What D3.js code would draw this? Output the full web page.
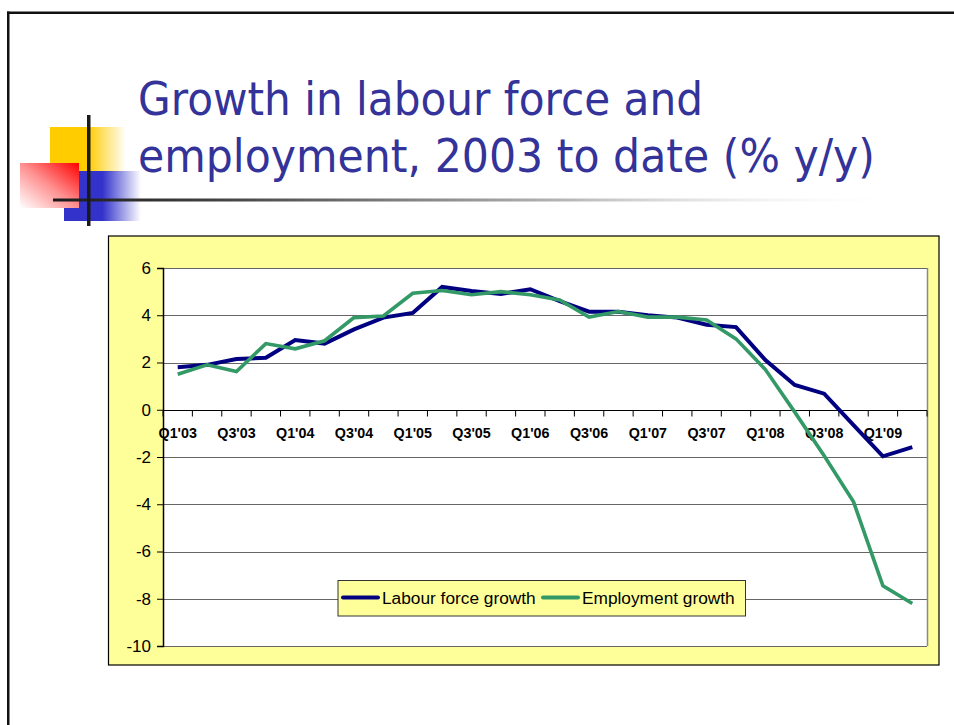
<!DOCTYPE html>
<html>
<head>
<meta charset="utf-8">
<script src="https://cdn.jsdelivr.net/npm/d3@7"></script>
<style>
  html, body { margin: 0; padding: 0; background: #fff; }
  svg { display: block; }
</style>
</head>
<body>
<svg id="slide" width="954" height="725"></svg>
<script>
// Quarterly categories, Q1 2003 to Q2 2009
const quarters = ["Q1'03","Q2'03","Q3'03","Q4'03","Q1'04","Q2'04","Q3'04","Q4'04",
  "Q1'05","Q2'05","Q3'05","Q4'05","Q1'06","Q2'06","Q3'06","Q4'06",
  "Q1'07","Q2'07","Q3'07","Q4'07","Q1'08","Q2'08","Q3'08","Q4'08",
  "Q1'09","Q2'09"];

// Year-on-year growth, %
const labourForce = [1.8,1.9,2.15,2.2,2.95,2.8,3.4,3.9,4.1,5.2,5.03,4.9,5.1,4.6,
  4.15,4.15,4.0,3.9,3.6,3.5,2.1,1.05,0.68,-0.65,-1.97,-1.58];
const employment = [1.5,1.9,1.62,2.8,2.58,2.92,3.9,3.97,4.93,5.05,4.87,5.0,4.87,4.65,
  3.92,4.16,3.92,3.92,3.8,3.0,1.7,-0.1,-1.95,-3.9,-7.45,-8.2];

// Axis labelling
const xTickLabels = quarters.filter((q, i) => i % 2 === 0);
const yTicks = [-10,-8,-6,-4,-2,0,2,4,6];

const seriesNames = ["Labour force growth", "Employment growth"];
const seriesColors = ["#000080", "#339966"];

const svg = d3.select("#slide");
const defs = svg.append("defs");

function hGrad(id, stops, x1, y1, x2, y2) {
  const g = defs.append("linearGradient").attr("id", id)
    .attr("x1", x1).attr("y1", y1).attr("x2", x2).attr("y2", y2);
  stops.forEach(s => g.append("stop").attr("offset", s[0])
    .attr("stop-color", s[1]).attr("stop-opacity", s[2]));
}
hGrad("gYellow", [[0,"#FFCC00",1],[0.5,"#FFCC00",1],[1,"#FFCC00",0]], 0, 0, 1, 0);
hGrad("gBlue", [[0,"#3333CC",1],[0.5,"#3333CC",1],[1,"#3333CC",0]], 0, 0, 1, 0);
hGrad("gRed", [[0,"#FF0000",1],[0.5,"#FF9090",1],[1,"#FFFFFF",1]], 1, 0, 0, 1);
hGrad("gRule", [[0,"#1a1a1a",1],[0.2,"#444444",1],[0.6,"#b5b5b5",1],[1,"#ffffff",0]], 0, 0, 1, 0);

// Slide frame
svg.append("rect").attr("x", 7).attr("y", 11.5).attr("width", 947).attr("height", 2.5).attr("fill", "#111");
svg.append("rect").attr("x", 7).attr("y", 11.5).attr("width", 2.5).attr("height", 714).attr("fill", "#111");

// Corner ornament
svg.append("rect").attr("x", 50).attr("y", 127).attr("width", 76).attr("height", 45).attr("fill", "url(#gYellow)");
svg.append("rect").attr("x", 64).attr("y", 171).attr("width", 77).attr("height", 50).attr("fill", "url(#gBlue)");
svg.append("rect").attr("x", 20).attr("y", 163).attr("width", 59).attr("height", 45).attr("fill", "url(#gRed)");
svg.append("rect").attr("x", 53).attr("y", 198.5).attr("width", 850).attr("height", 3).attr("fill", "url(#gRule)");
svg.append("rect").attr("x", 87).attr("y", 115).attr("width", 3.5).attr("height", 111).attr("fill", "#1a1a1a");

// Title
const titleLines = ["Growth in labour force and", "employment, 2003 to date (% y/y)"];
const titleWidths = [565, 737];
svg.append("g").selectAll("text").data(titleLines).join("text")
  .attr("x", 138).attr("y", (d, i) => 115 + i * 57)
  .attr("font-family", "'DejaVu Sans', Verdana, sans-serif")
  .attr("font-size", 46)
  .attr("fill", "#333399")
  .attr("textLength", (d, i) => titleWidths[i])
  .attr("lengthAdjust", "spacingAndGlyphs")
  .text(d => d);

// Chart frame
svg.append("rect").attr("x", 108.5).attr("y", 236).attr("width", 830.5).attr("height", 429)
  .attr("fill", "#FFFF99").attr("stroke", "#000").attr("stroke-width", 1.2);

const plot = { left: 163, right: 927, top: 268, bottom: 646 };
const x = d3.scaleBand().domain(quarters).range([plot.left, plot.right]);
const y = d3.scaleLinear().domain([-10, 6]).range([plot.bottom, plot.top]);

svg.append("rect").attr("x", plot.left).attr("y", plot.top)
  .attr("width", plot.right - plot.left).attr("height", plot.bottom - plot.top)
  .attr("fill", "#fff");

// Horizontal gridlines
svg.append("g").selectAll("line").data(yTicks).join("line")
  .attr("x1", plot.left).attr("x2", plot.right)
  .attr("y1", d => Math.round(y(d)) + 0.5).attr("y2", d => Math.round(y(d)) + 0.5)
  .attr("stroke", "#666").attr("stroke-width", 1);
// right edge of plot area
svg.append("line").attr("x1", plot.right + 0.5).attr("x2", plot.right + 0.5)
  .attr("y1", plot.top).attr("y2", plot.bottom).attr("stroke", "#888").attr("stroke-width", 1.5);

// Y axis
const yAxis = svg.append("g").attr("transform", `translate(${plot.left},0)`)
  .call(d3.axisLeft(y).tickValues(yTicks).tickSize(6).tickPadding(6).tickFormat(d => String(d)));
yAxis.select(".domain").attr("stroke", "#000").attr("stroke-width", 1.5);
yAxis.selectAll(".tick line").attr("stroke", "#000");
yAxis.selectAll(".tick text")
  .attr("font-family", "'Liberation Sans', Arial, sans-serif")
  .attr("font-size", 17).attr("fill", "#000");

// X axis at zero, ticks between categories
const y0 = Math.round(y(0)) + 0.5;
svg.append("line").attr("x1", plot.left).attr("x2", plot.right)
  .attr("y1", y0).attr("y2", y0).attr("stroke", "#000").attr("stroke-width", 1.2);
const boundaries = quarters.map(q => x(q)).concat([x(quarters[quarters.length - 1]) + x.bandwidth()]);
svg.append("g").selectAll("line").data(boundaries).join("line")
  .attr("x1", d => d).attr("x2", d => d)
  .attr("y1", y0).attr("y2", y0 + 6)
  .attr("stroke", "#000").attr("stroke-width", 1);
const xAxis = svg.append("g").attr("transform", `translate(0,${y0})`)
  .call(d3.axisBottom(x).tickValues(xTickLabels).tickSize(0).tickPadding(17));
xAxis.select(".domain").remove();
xAxis.selectAll(".tick text")
  .attr("font-family", "'Liberation Sans', Arial, sans-serif")
  .attr("font-size", 14.3).attr("font-weight", "bold").attr("fill", "#000");

// Series lines
const line = d3.line()
  .x((d, i) => x(quarters[i]) + x.bandwidth() / 2)
  .y(d => y(d));
[labourForce, employment].forEach((s, k) => {
  svg.append("path").datum(s)
    .attr("d", line)
    .attr("fill", "none")
    .attr("stroke", seriesColors[k])
    .attr("stroke-width", k === 0 ? 4 : 3.6)
    .attr("stroke-linejoin", "miter");
});

// Legend
const lg = svg.append("g");
lg.append("rect").attr("x", 338).attr("y", 580.5).attr("width", 407.5).attr("height", 35.5)
  .attr("fill", "#FFFF99").attr("stroke", "#333").attr("stroke-width", 1);
const legendItems = [
  { name: seriesNames[0], color: seriesColors[0], x0: 343 },
  { name: seriesNames[1], color: seriesColors[1], x0: 543 }
];
legendItems.forEach(it => {
  lg.append("line").attr("x1", it.x0).attr("x2", it.x0 + 35)
    .attr("y1", 597.5).attr("y2", 597.5)
    .attr("stroke", it.color).attr("stroke-width", 4).attr("stroke-linecap", "round");
  lg.append("text").attr("x", it.x0 + 39).attr("y", 603.5)
    .attr("font-family", "'Liberation Sans', Arial, sans-serif")
    .attr("font-size", 17.3).attr("fill", "#000")
    .text(it.name);
});
</script>
</body>
</html>
